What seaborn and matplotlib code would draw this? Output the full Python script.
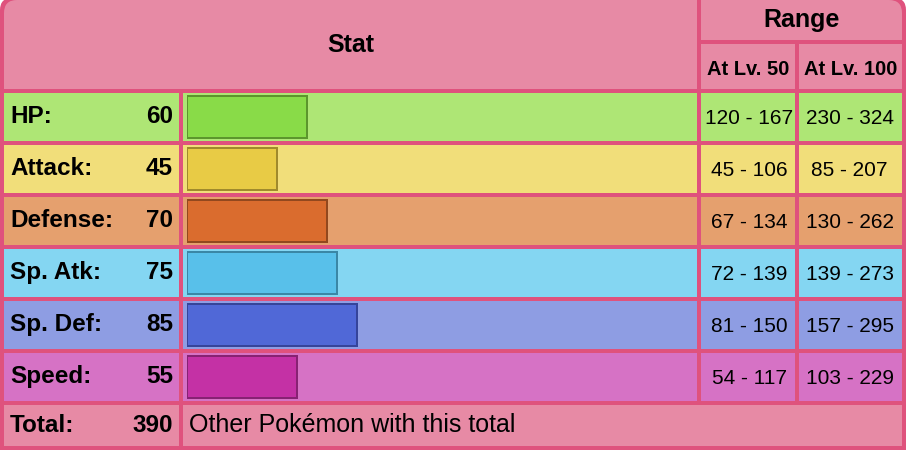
import matplotlib
matplotlib.use("Agg")
import matplotlib.pyplot as plt
from matplotlib.patches import Rectangle, FancyBboxPatch
import seaborn as sns

# dados da tabela
stat_names = ["HP:", "Attack:", "Defense:", "Sp. Atk:", "Sp. Def:", "Speed:"]
base_stats = [60, 45, 70, 75, 85, 55]
range_lv50 = ["120 - 167", "45 - 106", "67 - 134", "72 - 139", "81 - 150", "54 - 117"]
range_lv100 = ["230 - 324", "85 - 207", "130 - 262", "139 - 273", "157 - 295", "103 - 229"]
total_label = "Total:"
total_value = 390
total_text = "Other Pokémon with this total"

# cores
row_colors = ["#AEE675", "#F1DE7A", "#E5A06E", "#84D6F2", "#8E9DE3", "#D672C5"]
bar_colors = ["#89DB48", "#E8CB45", "#DA6C2E", "#58C0EA", "#5068D7", "#C431A5"]
edge_colors = ["#5C962D", "#A08A2C", "#92481E", "#3A87A6", "#35449A", "#872273"]
header_color = "#E78AA5"
border_color = "#DF527D"

sns.set_style("white")
plt.rcParams["font.family"] = ["Liberation Sans", "DejaVu Sans"]
plt.rcParams["text.color"] = "black"

W, H = 906, 450
fig = plt.figure(figsize=(W / 100, H / 100), dpi=100)
ax = fig.add_axes([0, 0, 1, 1])
ax.set_xlim(0, W)
ax.set_ylim(H, 0)
ax.axis("off")


def cell(x0, y0, x1, y1, color):
    ax.add_patch(Rectangle((x0, y0), x1 - x0, y1 - y0, facecolor=color, edgecolor="none"))


# fundo (bordas) com cantos de cima arredondados
ax.add_patch(FancyBboxPatch((0, -2), W, H + 2, boxstyle="round,pad=0,rounding_size=12",
                            facecolor=border_color, edgecolor="none"))
cell(0, 100, W, H, border_color)

# colunas
c_lab = (4, 179)
c_bar = (183, 697)
c_50 = (701, 795)
c_100 = (799, 902)

# cabecalho
ax.add_patch(FancyBboxPatch((4, 0), c_bar[1] - 4, 89, boxstyle="round,pad=0,rounding_size=13",
                            facecolor=header_color, edgecolor="none"))
cell(4, 20, c_bar[1], 89, header_color)
cell(40, 0, c_bar[1], 89, header_color)
ax.add_patch(FancyBboxPatch((c_50[0], 0), c_100[1] - c_50[0], 40, boxstyle="round,pad=0,rounding_size=13",
                            facecolor=header_color, edgecolor="none"))
cell(c_50[0], 20, c_100[1], 40, header_color)
cell(c_50[0], 0, c_100[1] - 40, 40, header_color)
cell(c_50[0], 44, c_50[1], 89, header_color)
cell(c_100[0], 44, c_100[1], 89, header_color)

ax.text((4 + c_bar[1]) / 2, 52, "Stat", ha="center", va="baseline", fontsize=18, fontweight="bold")
ax.text((c_50[0] + c_100[1]) / 2, 27, "Range", ha="center", va="baseline", fontsize=18, fontweight="bold")
ax.text((c_50[0] + c_50[1]) / 2, 75, "At Lv. 50", ha="center", va="baseline", fontsize=14.5, fontweight="bold")
ax.text((c_100[0] + c_100[1]) / 2, 75, "At Lv. 100", ha="center", va="baseline", fontsize=14.5, fontweight="bold")

# linhas dos stats
for i, name in enumerate(stat_names):
    y0 = 93 + 52 * i
    y1 = y0 + 48
    yc = (y0 + y1) / 2
    for cx in (c_lab, c_bar, c_50, c_100):
        cell(cx[0], y0, cx[1], y1, row_colors[i])
    ax.text(10, yc + 6, name, ha="left", va="baseline", fontsize=17.5, fontweight="bold")
    ax.text(173, yc + 6, str(base_stats[i]), ha="right", va="baseline", fontsize=17.5, fontweight="bold")
    ax.text((c_50[0] + c_50[1]) / 2 + 1, yc + 7, range_lv50[i], ha="center", va="baseline", fontsize=15)
    ax.text((c_100[0] + c_100[1]) / 2 - 1, yc + 7, range_lv100[i], ha="center", va="baseline", fontsize=15)

# linha do total
y0 = 93 + 52 * len(stat_names)
cell(c_lab[0], y0, c_lab[1], 446, header_color)
cell(c_bar[0], y0, c_100[1], 446, header_color)
yc = (y0 + 446) / 2
ax.text(10, yc + 7, total_label, ha="left", va="baseline", fontsize=17.5, fontweight="bold")
ax.text(173, yc + 7, str(total_value), ha="right", va="baseline", fontsize=17.5, fontweight="bold")
ax.text(189, yc + 7, total_text, ha="left", va="baseline", fontsize=18)

# barras: 1 unidade = 2 px, linhas de 52 px
bax = fig.add_axes([187 / W, (H - 403) / H, 510 / W, 312 / H])
bax.patch.set_alpha(0)
sns.barplot(x=base_stats, y=stat_names, hue=stat_names, palette=bar_colors, legend=False,
            orient="h", width=0.8, linewidth=1.44, saturation=1, ax=bax)
for p, ec in zip(bax.patches, edge_colors):
    p.set_edgecolor(ec)
bax.set_xlim(0, 255)
bax.set_ylim(5.5, -0.5)
bax.axis("off")

plt.savefig("out.png", dpi=100)
